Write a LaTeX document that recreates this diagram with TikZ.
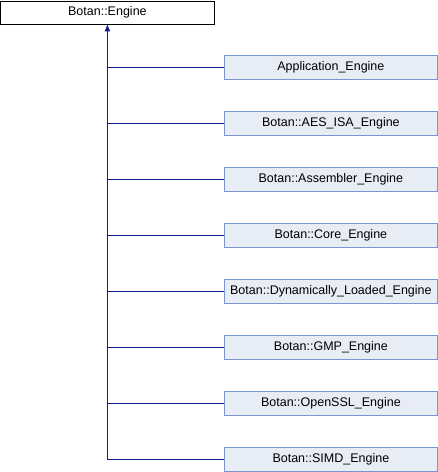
\documentclass[tikz,border=0pt]{standalone}
\usepackage{fontspec}
\setmainfont{Liberation Sans}
\usepackage{tikz}
\usetikzlibrary{arrows.meta, positioning}
\definecolor{edgeblue}{rgb}{0.1,0.1,0.55}
\definecolor{childfill}{rgb}{0.91,0.925,0.96}
\definecolor{childdraw}{rgb}{0.47,0.59,0.82}

\begin{document}
\begin{tikzpicture}[x=1pt, y=-1pt, font=\fontsize{12.5}{14}\selectfont,
		basebox/.style={draw=black, fill=white, line width=0.8pt, minimum width=213pt, minimum height=23pt, inner sep=0pt, anchor=north west},
		childbox/.style={draw=childdraw, fill=childfill, line width=0.8pt, minimum width=213pt, minimum height=24pt, inner sep=0pt, anchor=west},
		edge/.style={draw=edgeblue, line width=0.8pt}]
		\useasboundingbox (0,0) rectangle (438,472);
		\node(engine) [basebox] at (0.5,0.5) {Botan::Engine};
		
		\node(app)    [childbox] at (224,67)  {Application\_Engine};
		\node(aesisa) [childbox] at (224,123) {Botan::AES\_ISA\_Engine};
		\node(asm)    [childbox] at (224,179) {Botan::Assembler\_Engine};
		\node(core)   [childbox] at (224,235) {Botan::Core\_Engine};
		\node(dyn)    [childbox] at (224,291) {Botan::Dynamically\_Loaded\_Engine};
		\node(gmp)    [childbox] at (224,347) {Botan::GMP\_Engine};
		\node(ossl)   [childbox] at (224,403) {Botan::OpenSSL\_Engine};
		\node(simd)   [childbox] at (224,459) {Botan::SIMD\_Engine};
		
		\draw[edge, -{Latex[length=7pt, width=6pt]}] (simd.west) -| (engine.south);
		\draw[edge] (app.west) -- (app.west -| engine.south);
		\draw[edge] (aesisa.west) -- (aesisa.west -| engine.south);
		\draw[edge] (asm.west) -- (asm.west -| engine.south);
		\draw[edge] (core.west) -- (core.west -| engine.south);
		\draw[edge] (dyn.west) -- (dyn.west -| engine.south);
		\draw[edge] (gmp.west) -- (gmp.west -| engine.south);
		\draw[edge] (ossl.west) -- (ossl.west -| engine.south);
		\end{tikzpicture}
\end{document}
